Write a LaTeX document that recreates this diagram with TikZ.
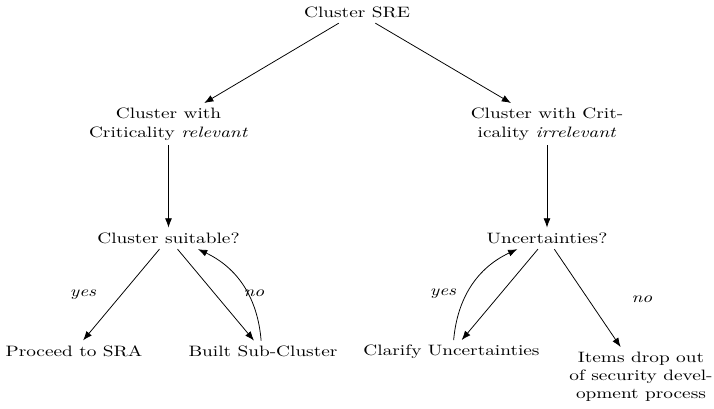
\documentclass[tikz,border=0pt]{standalone}
\usetikzlibrary{arrows.meta}
\begin{document}
\begin{tikzpicture}[x=0.5181pt, y=0.5181pt,
  every node/.style={yscale=0.78, transform shape, anchor=base},
  wide/.style={text width=3cm, align=center},
  stacked/.style={align=center},
  tag/.style={font=\itshape},
  flow/.style={-{Latex}},
]
\useasboundingbox (0,0) rectangle (714,409);

% decision tree
\node (sre)  at (357,391.5) {Cluster SRE};
\node[wide] (crel) at (168.5,290) {Cluster with Criticality \emph{relevant}};
\node[wide] (cirr) at (547,290) {Cluster with Criticality \emph{irrelevant}};
\node (suit) at (168.5,165.5) {Cluster suitable?};
\node (unc)  at (547,165.5) {Uncertainties?};
\node (sra)  at (74,52.5) {Proceed to SRA};
\node (sub)  at (263,52.5) {Built Sub-Cluster};
\node (clar) at (451.5,53) {Clarify Uncertainties};
% a stacked node sits on the baseline of its last line
\node[stacked] (drop) at (641,10) {Items drop out\\of security devel-\\opment process};

% answer labels
\node[tag] (yesA) at (83,112) {yes};
\node[tag] (noA)  at (254,112) {no};
\node[tag] (yesB) at (443,113) {yes};
\node[tag] (noB)  at (642,106) {no};

% connectors
\draw[flow] (sre) -- (crel);
\draw[flow] (sre) -- (cirr);
\draw[flow] (crel) -- (suit);
\draw[flow] (cirr) -- (unc);
\draw[flow] (suit) -- (sra);
\draw[flow] (suit) -- (sub);
\draw[flow] (sub) to[bend right=30] (suit);
\draw[flow] (unc) -- (clar);
\draw[flow] (clar) to[bend left=30] (unc);
\draw[flow] (unc) -- (drop);
\end{tikzpicture}
\end{document}
